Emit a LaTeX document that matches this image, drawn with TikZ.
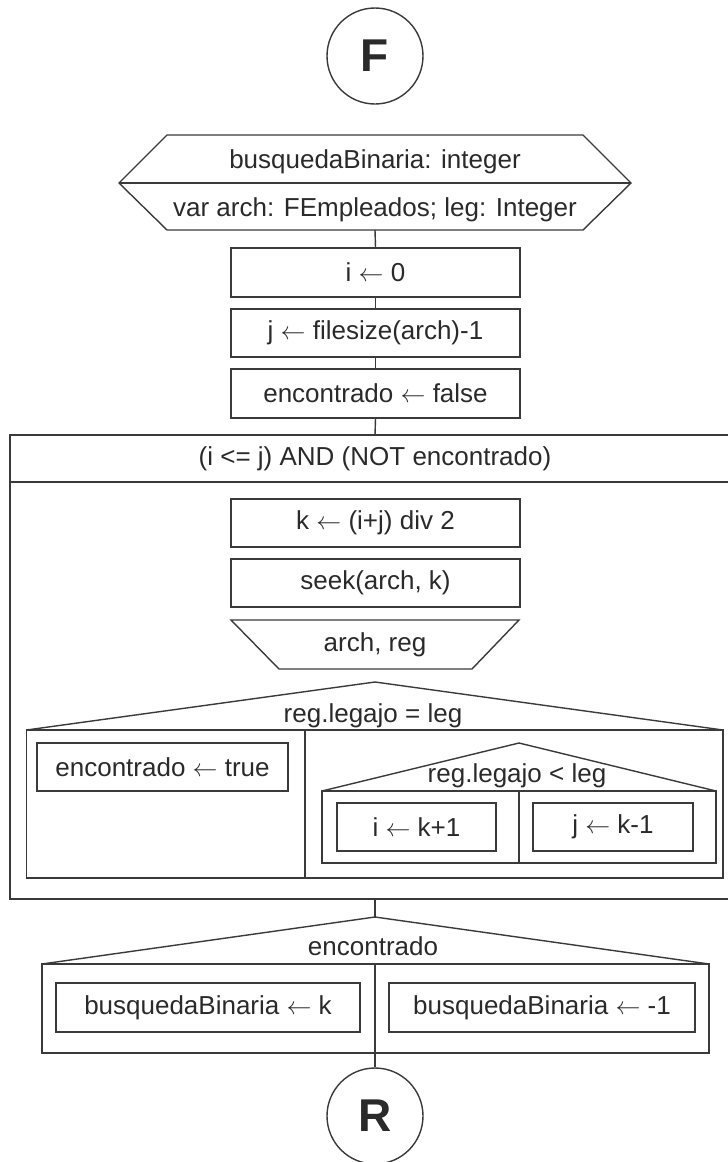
\documentclass[tikz,border=0pt]{standalone}
\usepackage{fontspec}
\setmainfont{Liberation Sans}
\definecolor{ln}{HTML}{3A3A3A}
\definecolor{tx}{HTML}{2A2A2A}
\newcommand{\asg}{$\leftarrow$}
\begin{document}
\begin{tikzpicture}[x=1pt,y=-1pt,line width=1.4pt,color=ln,
  every node/.style={text=tx,font=\fontsize{26}{30}\selectfont},
  box/.style={draw=ln,line width=1.4pt,rectangle,inner sep=0pt,minimum height=48pt},
  term/.style={draw=ln,line width=1.4pt,circle,inner sep=0pt,minimum size=96pt,font=\fontsize{46}{50}\selectfont\bfseries},
  lbl/.style={inner sep=0pt,anchor=base}]
\useasboundingbox (0,0) rectangle (728,1162);
% start terminal
\node[term] (F) at (375,56) {F};
% header hexagon
\coordinate (hexL) at (119,183);
\coordinate (hexR) at (631,183);
\coordinate (hexB) at (375,230);
\draw (167,135) -- (583,135) -- (hexR) -- (583,230) -- (167,230) -- (hexL) -- cycle;
\draw (hexL) -- (hexR);
\node[lbl] (h1) at (375,168) {busquedaBinaria: integer};
\node[lbl] (h2) at (375,216) {var arch: FEmpleados; leg: Integer};
% initial assignments
\node[box,minimum width=289pt,minimum height=49pt] (b1) at (375.5,272.5) {i \asg{} 0};
\node[box,minimum width=289pt] (b2) at (375.5,333) {j \asg{} filesize(arch)-1};
\node[box,minimum width=289pt,minimum height=49pt] (b3) at (375.5,393.5) {encontrado \asg{} false};
\draw (hexB) -- (b1.north);
\draw (b1.south) -- (b2.north);
\draw (b2.south) -- (b3.north);
% while loop
\coordinate (loopT) at (375,435);
\coordinate (loopB) at (375,899);
\draw (b3.south) -- (loopT);
\draw (728,435) -- (10,435) -- (10,899) -- (728,899);
\draw (10,482) -- (728,482);
\node (wt) at (375,459) {(i <= j) AND (NOT encontrado)};
\node[box,minimum width=289pt] (bk) at (375.5,523) {k \asg{} (i+j) div 2};
\node[box,minimum width=289pt] (bs) at (375.5,583) {seek(arch, k)};
\draw (231,620) -- (519,620) -- (472,669) -- (279,669) -- cycle;
\node (rd) at (375,644.5) {arch, reg};
% if reg.legajo = leg
\coordinate (if1) at (375,682);
\draw (26.5,730) -- (if1) -- (723,730);
\draw (26.5,730) rectangle (723,878);
\draw (305,730) -- (305,878);
\node[lbl] (c1) at (373,722) {reg.legajo = leg};
\node[box,minimum width=251pt] (bt) at (162.5,767) {encontrado \asg{} true};
% nested if reg.legajo < leg
\coordinate (if2) at (519,743);
\draw (322,791) -- (if2) -- (716,791);
\draw (322,791) rectangle (716,863);
\draw (519,791) -- (519,863);
\node[lbl] (c2) at (517,782) {reg.legajo < leg};
\node[box,minimum width=159pt] (bi) at (416.5,827) {i \asg{} k+1};
\node[box,minimum width=160pt] (bj) at (613,827) {j \asg{} k-1};
% final if
\coordinate (if3) at (375,917);
\draw (loopB) -- (if3);
\draw (42,964) -- (if3) -- (709,964);
\draw (42,964) rectangle (709,1053);
\node[lbl] (c3) at (373,955) {encontrado};
\node[box,minimum width=304pt,minimum height=49pt] (r1) at (208,1007.5) {busquedaBinaria \asg{} k};
\node[box,minimum width=306pt,minimum height=49pt] (r2) at (542,1007.5) {busquedaBinaria \asg{} -1};
% end terminal
\node[term] (R) at (375,1116) {R};
\draw (375,964) -- (R.north);
\end{tikzpicture}
\end{document}
